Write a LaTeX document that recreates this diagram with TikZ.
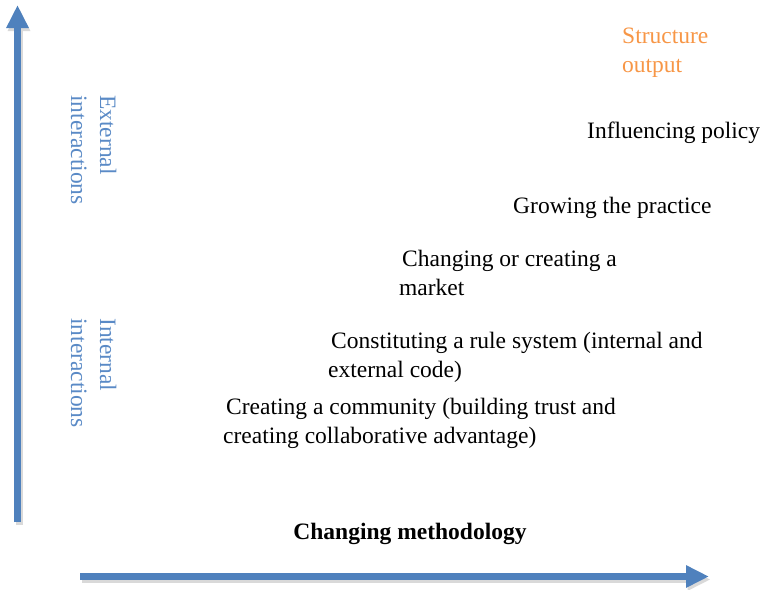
\documentclass[tikz,border=0pt]{standalone}
\usepackage{fontspec}
\setmainfont{Liberation Serif}
\usetikzlibrary{arrows.meta}
\definecolor{axisblue}{HTML}{4F81BD}
\definecolor{labelblue}{HTML}{5A8AC6}
\definecolor{outorange}{HTML}{F79646}
\definecolor{shade}{HTML}{D9D9D9}
\tikzset{
  txt/.style={inner sep=0pt, anchor=base west, align=left,
    font=\fontsize{23.5}{29}\selectfont},
  axislabel/.style={txt, text=labelblue, rotate=-90},
  axis/.style={draw=axisblue, line width=7pt,
    -{Triangle[width=21pt,length=23pt]}},
  axisshadow/.style={draw=shade, line width=7pt,
    -{Triangle[width=21pt,length=23pt]}}
}
\newcommand{\back}{\hspace*{-3pt}}
\begin{document}
\begin{tikzpicture}[x=1pt,y=-1pt]
\useasboundingbox (0,0) rectangle (765,589);
% axis ends
\coordinate (vb) at (17.5,522);
\coordinate (vt) at (17.5,5);
\coordinate (hl) at (80,576.5);
\coordinate (hr) at (709,576.5);
% soft shadows under the axes
\draw[axisshadow] ([shift={(1.5,3)}]vb) -- ([shift={(1.5,3)}]vt);
\draw[axisshadow] ([shift={(1.5,3)}]hl) -- ([shift={(1.5,3)}]hr);
% axes
\draw[axis] (vb) -- (vt);
\draw[axis] (hl) -- (hr);
% vertical axis labels (anchored on the baseline of their last line)
\node[axislabel] (ext) at (71,95) {External\\interactions};
\node[axislabel] (int) at (71,318) {Internal\\interactions};
% horizontal axis label
\node[txt, font=\fontsize{23.5}{29}\selectfont\bfseries, anchor=base] (meth) at (410,539) {Changing methodology};
% staircase of outputs (anchored on the baseline of their last line)
\node[txt, text=outorange] (out) at (622,72) {Structure\\output};
\node[txt] (pol) at (587,138) {Influencing policy};
\node[txt] (prac) at (513,213) {Growing the practice};
\node[txt] (mkt) at (402,295) {Changing or creating a\\\back market};
\node[txt] (rule) at (331,377) {Constituting a rule system (internal and\\\back external code)};
\node[txt] (comm) at (226,443) {Creating a community (building trust and\\\back creating collaborative advantage)};
\end{tikzpicture}
\end{document}
